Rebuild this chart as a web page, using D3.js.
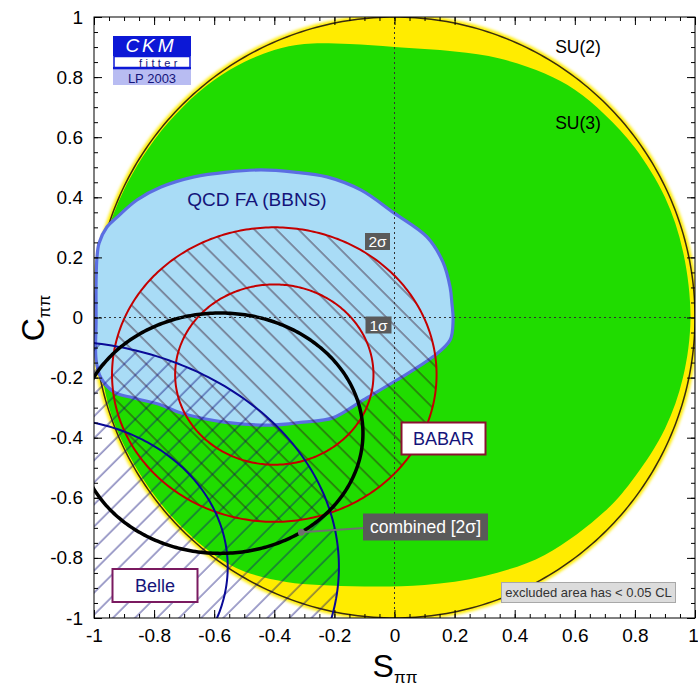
<!DOCTYPE html>
<html><head><meta charset="utf-8">
<script src="https://cdn.jsdelivr.net/npm/d3@7"></script>
<style>
body{margin:0;background:#fff}
svg{display:block}
text{font-family:"Liberation Sans",Arial,Helvetica,sans-serif}
</style>
</head><body>
<svg id="chart" width="698" height="690"></svg>
<script>
// ---- axis ticks ----
const sTicks = [-1, -0.8, -0.6, -0.4, -0.2, 0, 0.2, 0.4, 0.6, 0.8, 1];
const sTickLabels = ["-1", "-0.8", "-0.6", "-0.4", "-0.2", "0", "0.2", "0.4", "0.6", "0.8", "1"];
const cTicks = [-1, -0.8, -0.6, -0.4, -0.2, 0, 0.2, 0.4, 0.6, 0.8, 1];
const cTickLabels = ["-1", "-0.8", "-0.6", "-0.4", "-0.2", "0", "0.2", "0.4", "0.6", "0.8", "1"];
const minorStep = 0.05;

// ---- SU(2) bound: S^2 + C^2 <= 1 ----
const su2Radius = [1, 1];

// ---- SU(3) allowed region boundary (S, C) ----
const su3Boundary = [
  [-0.99, 0.05], [-0.965, 0.25], [-0.9, 0.425], [-0.8, 0.59], [-0.7, 0.705], [-0.6, 0.79],
  [-0.5, 0.85], [-0.4, 0.89], [-0.3, 0.91], [-0.15, 0.91], [0, 0.90], [0.2, 0.885],
  [0.35, 0.862], [0.5, 0.812], [0.6, 0.758], [0.7, 0.675], [0.8, 0.565], [0.9, 0.40],
  [0.96, 0.22], [0.985, 0.0], [0.96, -0.2], [0.9, -0.37], [0.8, -0.53], [0.7, -0.645],
  [0.5, -0.79], [0.3, -0.86], [0.1, -0.89], [-0.1, -0.895], [-0.25, -0.89], [-0.36, -0.88],
  [-0.5, -0.845], [-0.6, -0.79], [-0.7, -0.705], [-0.8, -0.59], [-0.9, -0.425], [-0.96, -0.26]
];

// ---- QCD factorization (BBNS) region boundary (S, C) ----
const qcdfaBoundary = [
  [-0.983, 0.248], [-0.957, 0.301], [-0.923, 0.334], [-0.857, 0.391], [-0.777, 0.434],
  [-0.667, 0.468], [-0.557, 0.484], [-0.444, 0.491], [-0.334, 0.484], [-0.225, 0.468],
  [-0.111, 0.424], [-0.002, 0.348], [0.108, 0.268], [0.161, 0.185], [0.185, 0.101],
  [0.191, 0.048], [0.195, -0.008], [0.185, -0.075], [0.128, -0.131], [0.008, -0.208],
  [-0.105, -0.275], [-0.205, -0.334], [-0.304, -0.348], [-0.414, -0.358], [-0.567, -0.348],
  [-0.71, -0.318], [-0.777, -0.291], [-0.867, -0.268], [-0.933, -0.248], [-0.977, -0.201],
  [-0.993, -0.141], [-0.993, -0.008], [-0.993, 0.125], [-0.99, 0.201]
];

// ---- measurements: centres and contour half-axes (S, C) ----
const babarCenter = [-0.40, -0.19];
const babar1Sigma = [0.33, 0.30];
const babar2Sigma = [0.54, 0.49];
const belleCenter = [-1.14, -0.83];
const belle1Sigma = [0.585, 0.494];
const belle2Sigma = [0.955, 0.753];
const combinedCenter = [-0.58, -0.385];
const combined2Sigma = [0.475, 0.40];
const combinedLabelAnchor = [-0.31, -0.715];

// ---- layout ----
const svg = d3.select("#chart");
const x = d3.scaleLinear().domain([-1, 1]).range([94, 695]);
const y = d3.scaleLinear().domain([-1, 1]).range([618, 17]);

const defs = svg.append("defs");
defs.append("clipPath").attr("id", "plotClip")
  .append("rect").attr("x", 94).attr("y", 17).attr("width", 601).attr("height", 601);
defs.append("filter").attr("id", "soft").attr("x", "-5%").attr("y", "-5%").attr("width", "110%").attr("height", "110%")
  .append("feGaussianBlur").attr("stdDeviation", 1.6);

function hatch(id, angle, color, width, opacity) {
  const p = defs.append("pattern").attr("id", id)
    .attr("patternUnits", "userSpaceOnUse")
    .attr("width", 15.6).attr("height", 15.6)
    .attr("patternTransform", `rotate(${angle})`);
  p.append("line").attr("x1", 2).attr("y1", -1).attr("x2", 2).attr("y2", 17)
    .attr("stroke", color).attr("stroke-width", width).attr("stroke-opacity", opacity);
}
hatch("hatchBabar", -45, "#300818", 0.9, 0.85);
hatch("hatchBelle", 45, "#0c0c78", 0.85, 0.9);

const line = d3.line().x(d => x(d[0])).y(d => y(d[1]));
const closedSmooth = d3.line().x(d => x(d[0])).y(d => y(d[1])).curve(d3.curveCatmullRomClosed.alpha(0.5));
function ellipse(c, r) {
  const pts = d3.range(0, 360, 1).map(a => {
    const t = a * Math.PI / 180;
    return [c[0] + r[0] * Math.cos(t), c[1] + r[1] * Math.sin(t)];
  });
  return line.curve(d3.curveLinearClosed)(pts);
}

const plot = svg.append("g").attr("clip-path", "url(#plotClip)");

// SU(2) yellow region with soft edge
plot.append("path").attr("d", ellipse([0, 0], [1.01, 1.01])).attr("fill", "#ffec00").attr("filter", "url(#soft)");
plot.append("path").attr("d", ellipse([0, 0], su2Radius)).attr("fill", "#ffec00");
// SU(3) green region
plot.append("path").attr("d", closedSmooth(su3Boundary)).attr("fill", "#20dc00");
// SU(2) boundary line
plot.append("path").attr("d", ellipse([0, 0], su2Radius)).attr("fill", "none")
  .attr("stroke", "#3a2c10").attr("stroke-width", 1.5);
// QCD FA region
plot.append("path").attr("d", closedSmooth(qcdfaBoundary)).attr("fill", "#a9dcf6")
  .attr("stroke", "#5b6ee2").attr("stroke-width", 3.2);

// hatched measurement regions
plot.append("path").attr("d", ellipse(babarCenter, babar2Sigma)).attr("fill", "url(#hatchBabar)");
plot.append("path").attr("d", ellipse(belleCenter, belle2Sigma)).attr("fill", "url(#hatchBelle)");

// contours
plot.append("path").attr("d", ellipse(babarCenter, babar2Sigma)).attr("fill", "none").attr("stroke", "#c40000").attr("stroke-width", 2);
plot.append("path").attr("d", ellipse(babarCenter, babar1Sigma)).attr("fill", "none").attr("stroke", "#c40000").attr("stroke-width", 2);
plot.append("path").attr("d", ellipse(belleCenter, belle2Sigma)).attr("fill", "none").attr("stroke", "#0a0a96").attr("stroke-width", 2);
plot.append("path").attr("d", ellipse(belleCenter, belle1Sigma)).attr("fill", "none").attr("stroke", "#0a0a96").attr("stroke-width", 2);
plot.append("path").attr("d", ellipse(combinedCenter, combined2Sigma)).attr("fill", "none").attr("stroke", "#000").attr("stroke-width", 3.5);

// zero lines
plot.append("line").attr("x1", x(0)).attr("x2", x(0)).attr("y1", y(1)).attr("y2", y(-1))
  .attr("stroke", "#333").attr("stroke-width", 1).attr("stroke-dasharray", "2,3");
plot.append("line").attr("x1", x(-1)).attr("x2", x(1)).attr("y1", y(0)).attr("y2", y(0))
  .attr("stroke", "#333").attr("stroke-width", 1).attr("stroke-dasharray", "2,3");

// ---- annotations ----
function boxLabel(cx, cy, w, h, text, opts) {
  const g = svg.append("g");
  g.append("rect").attr("x", cx - w / 2).attr("y", cy - h / 2).attr("width", w).attr("height", h)
    .attr("fill", opts.fill).attr("stroke", opts.stroke || "none").attr("stroke-width", opts.sw || 0);
  g.append("text").attr("x", cx).attr("y", cy).attr("dy", "0.36em").attr("text-anchor", "middle")
    .attr("font-size", opts.size).attr("fill", opts.color).text(text);
  return g;
}

svg.append("text").attr("x", 578).attr("y", 53).attr("text-anchor", "middle").attr("font-size", 17.5).text("SU(2)");
svg.append("text").attr("x", 578).attr("y", 129).attr("text-anchor", "middle").attr("font-size", 17.5).text("SU(3)");
svg.append("text").attr("x", 257).attr("y", 206).attr("text-anchor", "middle").attr("font-size", 19)
  .attr("fill", "#14147a").text("QCD FA (BBNS)");

boxLabel(377.5, 241.5, 25, 17, "2σ", { fill: "#5a5a5a", color: "#fff", size: 15.5 });
boxLabel(378.5, 325, 26, 17, "1σ", { fill: "#5a5a5a", color: "#fff", size: 15.5 });
boxLabel(443.5, 438.5, 84, 32, "BABAR", { fill: "#fff", stroke: "#8a1030", sw: 2, color: "#14147a", size: 18 });
boxLabel(155, 585.5, 85, 33, "Belle", { fill: "#fff", stroke: "#7a1a60", sw: 2, color: "#14147a", size: 18 });

// combined label with connector
svg.append("line").attr("x1", x(combinedLabelAnchor[0])).attr("y1", y(combinedLabelAnchor[1]))
  .attr("x2", 364).attr("y2", 528).attr("stroke", "#707070").attr("stroke-width", 2);
svg.append("circle").attr("cx", x(combinedLabelAnchor[0])).attr("cy", y(combinedLabelAnchor[1])).attr("r", 3.5).attr("fill", "#707070");
boxLabel(425.5, 527, 125, 27, "combined [2σ]", { fill: "#5a5a5a", color: "#fff", size: 17.5 });

boxLabel(588.5, 592.5, 174, 20, "excluded area has < 0.05 CL", { fill: "#dcdcdc", stroke: "#a8a8a8", sw: 1, color: "#333", size: 13 });

// CKMfitter logo
const logo = svg.append("g");
logo.append("rect").attr("x", 113).attr("y", 36).attr("width", 78).attr("height", 20).attr("fill", "#0c18d6");
logo.append("text").attr("x", 151).attr("y", 52).attr("text-anchor", "middle").attr("font-size", 19)
  .attr("font-style", "italic").attr("letter-spacing", 3).attr("fill", "#fff").text("CKM");
logo.append("rect").attr("x", 114).attr("y", 56.5).attr("width", 76).attr("height", 11).attr("fill", "#fff")
  .attr("stroke", "#0c18d6").attr("stroke-width", 1.5);
logo.append("rect").attr("x", 113).attr("y", 67).attr("width", 78).attr("height", 2.5).attr("fill", "#0c18d6");
logo.append("text").attr("x", 160).attr("y", 66.5).attr("text-anchor", "middle").attr("font-size", 11)
  .attr("letter-spacing", 3.4).attr("fill", "#14147a").text("fitter");
logo.append("rect").attr("x", 113).attr("y", 70).attr("width", 78).attr("height", 15).attr("fill", "#b8bcf2");
logo.append("text").attr("x", 152).attr("y", 82.5).attr("text-anchor", "middle").attr("font-size", 13)
  .attr("fill", "#14147a").text("LP 2003");

// ---- axes ----
const minor = d3.range(-1, 1.0001, minorStep).map(v => Math.round(v * 100) / 100);
function fmtFrom(ticks, labels) { return v => labels[ticks.findIndex(t => Math.abs(t - v) < 1e-9)]; }

const axes = svg.append("g");
function styleAxis(g) {
  g.select(".domain").remove();
  g.selectAll(".tick line").attr("stroke", "#000").attr("stroke-width", 1);
  g.selectAll("text").attr("fill", "#000").attr("font-family", '"Liberation Sans",Arial,sans-serif').attr("font-size", 19);
}
const xAxisG = axes.append("g").attr("transform", `translate(0,${y(-1)})`)
  .call(d3.axisBottom(x).tickValues(sTicks).tickFormat(fmtFrom(sTicks, sTickLabels)).tickSize(-8).tickPadding(11)).call(styleAxis);
xAxisG.selectAll(".tick text").filter(d => d === 1).attr("dx", -2);
axes.append("g").attr("transform", `translate(0,${y(-1)})`)
  .call(d3.axisBottom(x).tickValues(minor).tickFormat("").tickSize(-4)).call(styleAxis);
axes.append("g").attr("transform", `translate(0,${y(1)})`)
  .call(d3.axisTop(x).tickValues(sTicks).tickFormat("").tickSize(-8)).call(styleAxis);
axes.append("g").attr("transform", `translate(0,${y(1)})`)
  .call(d3.axisTop(x).tickValues(minor).tickFormat("").tickSize(-4)).call(styleAxis);
axes.append("g").attr("transform", `translate(${x(-1)},0)`)
  .call(d3.axisLeft(y).tickValues(cTicks).tickFormat(fmtFrom(cTicks, cTickLabels)).tickSize(-8).tickPadding(11)).call(styleAxis);
axes.append("g").attr("transform", `translate(${x(-1)},0)`)
  .call(d3.axisLeft(y).tickValues(minor).tickFormat("").tickSize(-4)).call(styleAxis);
axes.append("g").attr("transform", `translate(${x(1)},0)`)
  .call(d3.axisRight(y).tickValues(cTicks).tickFormat("").tickSize(-8)).call(styleAxis);
axes.append("g").attr("transform", `translate(${x(1)},0)`)
  .call(d3.axisRight(y).tickValues(minor).tickFormat("").tickSize(-4)).call(styleAxis);

svg.append("rect").attr("x", 94).attr("y", 17).attr("width", 601).attr("height", 601)
  .attr("fill", "none").attr("stroke", "#000").attr("stroke-width", 1);

// axis titles
const sTitle = svg.append("text").attr("x", 395).attr("y", 677).attr("text-anchor", "middle").attr("font-size", 32);
sTitle.append("tspan").text("S");
sTitle.append("tspan").attr("font-size", 17).attr("dy", 6).text("ππ");
const cTitle = svg.append("text").attr("transform", "translate(44,318) rotate(-90)").attr("text-anchor", "middle").attr("font-size", 32);
cTitle.append("tspan").text("C");
cTitle.append("tspan").attr("font-size", 17).attr("dy", 6).text("ππ");
</script>
</body></html>
